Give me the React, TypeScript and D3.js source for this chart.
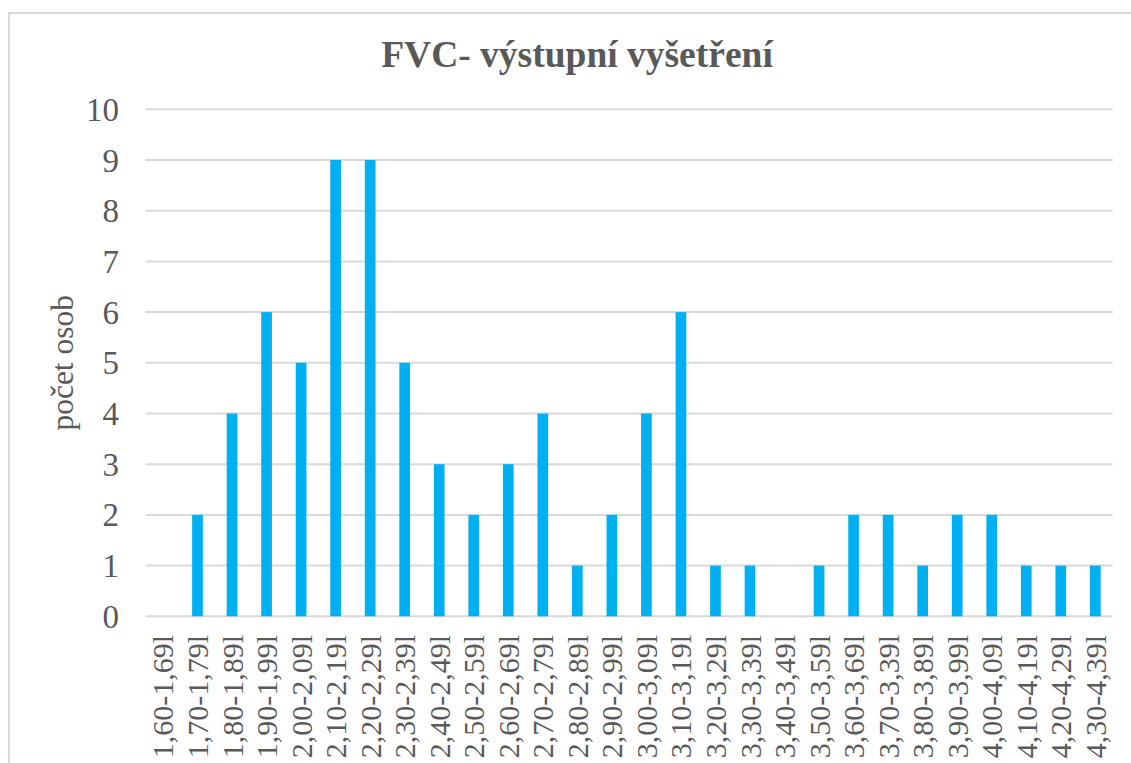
import React from "react";
import * as d3 from "d3";

const categories = [
  "1,60-1,69l", "1,70-1,79l", "1,80-1,89l", "1,90-1,99l", "2,00-2,09l", "2,10-2,19l", "2,20-2,29l",
  "2,30-2,39l", "2,40-2,49l", "2,50-2,59l", "2,60-2,69l", "2,70-2,79l", "2,80-2,89l", "2,90-2,99l",
  "3,00-3,09l", "3,10-3,19l", "3,20-3,29l", "3,30-3,39l", "3,40-3,49l", "3,50-3,59l", "3,60-3,69l",
  "3,70-3,39l", "3,80-3,89l", "3,90-3,99l", "4,00-4,09l", "4,10-4,19l", "4,20-4,29l", "4,30-4,39l",
];
const values = [0, 2, 4, 6, 5, 9, 9, 5, 3, 2, 3, 4, 1, 2, 4, 6, 1, 1, 0, 1, 2, 2, 1, 2, 2, 1, 1, 1];
const yTicks = [0, 1, 2, 3, 4, 5, 6, 7, 8, 9, 10];
const title = "FVC- výstupní vyšetření";
const yLabel = "počet osob";

const W = 1131;
const H = 763;
const FONT = "'Liberation Serif', 'Times New Roman', serif";
const TEXT = "#595959";

export default function App() {
  const x = d3.scaleBand<string>().domain(categories).range([145.7, 1112.6]).padding(0);
  const y = d3.scaleLinear().domain([0, 10]).range([616.3, 109.3]);
  const barW = x.bandwidth() * 0.31;

  return (
    <svg width={W} height={H} style={{ position: "absolute", left: 0, top: 0 }}>
      <rect x={0} y={0} width={W} height={H} fill="#fff" />
      <rect x={9} y={13} width={W + 10} height={H + 10} fill="none" stroke="#d9d9d9" strokeWidth={2} />
      <text x={577} y={67} textAnchor="middle" fontFamily={FONT} fontSize={37.5} fontWeight="bold" fill={TEXT}>
        {title}
      </text>
      {yTicks.map((t) => (
        <g key={t}>
          <line x1={145.7} x2={1112.6} y1={y(t)} y2={y(t)} stroke="#d9d9d9" strokeWidth={2} />
          <text x={119} y={y(t)} dy="0.35em" textAnchor="end" fontFamily={FONT} fontSize={33} fill={TEXT}>
            {t}
          </text>
        </g>
      ))}
      {categories.map((c, i) => {
        const cx = (x(c) as number) + x.bandwidth() / 2;
        return (
          <g key={c}>
            <rect x={cx - barW / 2} y={y(values[i])} width={barW} height={y(0) - y(values[i])} fill="#00b0f0" />
            <text
              transform={`translate(${cx},635) rotate(-90)`}
              dy="0.35em"
              textAnchor="end"
              fontFamily={FONT}
              fontSize={30}
              fill={TEXT}
            >
              {c}
            </text>
          </g>
        );
      })}
      <text
        transform={`translate(62,${(y(0) + y(10)) / 2}) rotate(-90)`}
        dy="0.35em"
        textAnchor="middle"
        fontFamily={FONT}
        fontSize={31.5}
        fill={TEXT}
      >
        {yLabel}
      </text>
    </svg>
  );
}
